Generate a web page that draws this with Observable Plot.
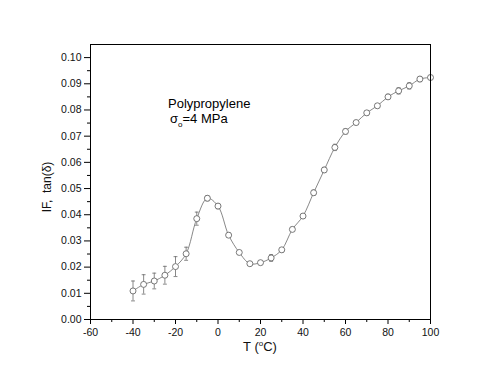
<!DOCTYPE html>
<html>
<head>
<meta charset="utf-8">
<script src="https://cdn.jsdelivr.net/npm/d3@7"></script>
<script src="https://cdn.jsdelivr.net/npm/@observablehq/plot@0.6"></script>
<style>
  html, body { margin: 0; padding: 0; background: #fff; }
  #chart { width: 500px; height: 383px; }
</style>
</head>
<body>
<div id="chart"></div>
<script>
const temps = [-40, -35, -30, -25, -20, -15, -10, -5, 0, 5, 10, 15, 20, 25, 30, 35, 40, 45, 50, 55, 60, 65, 70, 75, 80, 85, 90, 95, 100];
const tanDelta = [0.0109, 0.0134, 0.0147, 0.0169, 0.0202, 0.0251, 0.0385, 0.0463, 0.0433, 0.0322, 0.0256, 0.0213, 0.0217, 0.0235, 0.0266, 0.0344, 0.0395, 0.0484, 0.0571, 0.0657, 0.0718, 0.0752, 0.0789, 0.0816, 0.0850, 0.0873, 0.0892, 0.0918, 0.0924];
const errors = [0.0038, 0.0037, 0.0030, 0.0034, 0.0038, 0.0025, 0.0025, 0.0010, 0.0010, 0.0008, 0.0006, 0.0006, 0.0008, 0.0013, 0.0008, 0.0008, 0.0008, 0.0010, 0.0010, 0.0012, 0.0010, 0.0008, 0.0008, 0.0008, 0.0010, 0.0012, 0.0012, 0.0010, 0.0008];
const xMajorTicks = [-60, -40, -20, 0, 20, 40, 60, 80, 100];
const xMinorTicks = [-50, -30, -10, 10, 30, 50, 70, 90];
const yMajorTicks = [0, 0.01, 0.02, 0.03, 0.04, 0.05, 0.06, 0.07, 0.08, 0.09, 0.10];
const yMinorTicks = [0.005, 0.015, 0.025, 0.035, 0.045, 0.055, 0.065, 0.075, 0.085, 0.095];

const data = temps.map((t, i) => ({T: t, v: tanDelta[i], lo: tanDelta[i] - errors[i], hi: tanDelta[i] + errors[i]}));

const capSymbol = {
  draw(ctx, size) {
    const w = Math.sqrt(size) / 2;
    ctx.moveTo(-w, 0);
    ctx.lineTo(w, 0);
  }
};

const gray = "#6a6a6a";

const chart = Plot.plot({
  width: 500,
  height: 383,
  marginLeft: 90,
  marginRight: 70,
  marginTop: 44,
  marginBottom: 64,
  style: {fontFamily: "'Liberation Sans', Arial, sans-serif", fontSize: "10.5px", color: "#111", background: "#fff"},
  x: {domain: [-60, 100]},
  y: {domain: [0, 0.105]},
  marks: [
    Plot.ruleX(data, {x: "T", y1: "lo", y2: "hi", stroke: gray, strokeWidth: 0.8}),
    Plot.dot(data, {x: "T", y: "lo", symbol: capSymbol, r: 2.2, stroke: gray, strokeWidth: 0.8}),
    Plot.dot(data, {x: "T", y: "hi", symbol: capSymbol, r: 2.2, stroke: gray, strokeWidth: 0.8}),
    Plot.line(data, {x: "T", y: "v", stroke: gray, strokeWidth: 0.8, curve: "catmull-rom"}),
    Plot.dot(data, {x: "T", y: "v", r: 3, stroke: gray, fill: "white", strokeWidth: 0.9}),
    Plot.axisX({ticks: xMajorTicks, tickSize: 5, tickPadding: 4, tickFormat: d => String(d), label: null, stroke: "#000"}),
    Plot.axisX({ticks: xMinorTicks, tickSize: 3, tickFormat: () => "", label: null, stroke: "#000"}),
    Plot.axisY({ticks: yMajorTicks, tickSize: 6, tickPadding: 3, tickFormat: d3.format(".2f"), label: null, stroke: "#000"}),
    Plot.axisY({ticks: yMinorTicks, tickSize: 3, tickFormat: () => "", label: null, stroke: "#000"}),
    Plot.frame({stroke: "#000", strokeWidth: 1})
  ]
});

document.getElementById("chart").appendChild(chart);

const svg = d3.select(chart);
const font = "'Liberation Sans', Arial, sans-serif";

// x-axis label
const xl = svg.append("text")
  .attr("x", 260).attr("y", 351)
  .attr("text-anchor", "middle")
  .attr("font-family", font).attr("font-size", 13).attr("fill", "#111");
xl.append("tspan").text("T (");
xl.append("tspan").attr("font-size", 8).attr("dy", -5).text("o");
xl.append("tspan").attr("dy", 5).text("C)");

// y-axis label
svg.append("text")
  .attr("transform", "translate(51,187) rotate(-90)")
  .attr("text-anchor", "middle")
  .attr("font-family", font).attr("font-size", 12).attr("fill", "#111")
  .text("IF,  tan(δ)");

// annotation
svg.append("text")
  .attr("x", 168).attr("y", 108)
  .attr("text-anchor", "start")
  .attr("font-family", font).attr("font-size", 13).attr("fill", "#000")
  .text("Polypropylene");
const ann = svg.append("text")
  .attr("x", 170).attr("y", 123)
  .attr("text-anchor", "start")
  .attr("font-family", font).attr("font-size", 13).attr("fill", "#000");
ann.append("tspan").text("σ");
ann.append("tspan").attr("font-size", 8).attr("dy", 4).text("o");
ann.append("tspan").attr("dy", -4).text("=4 MPa");
</script>
</body>
</html>
